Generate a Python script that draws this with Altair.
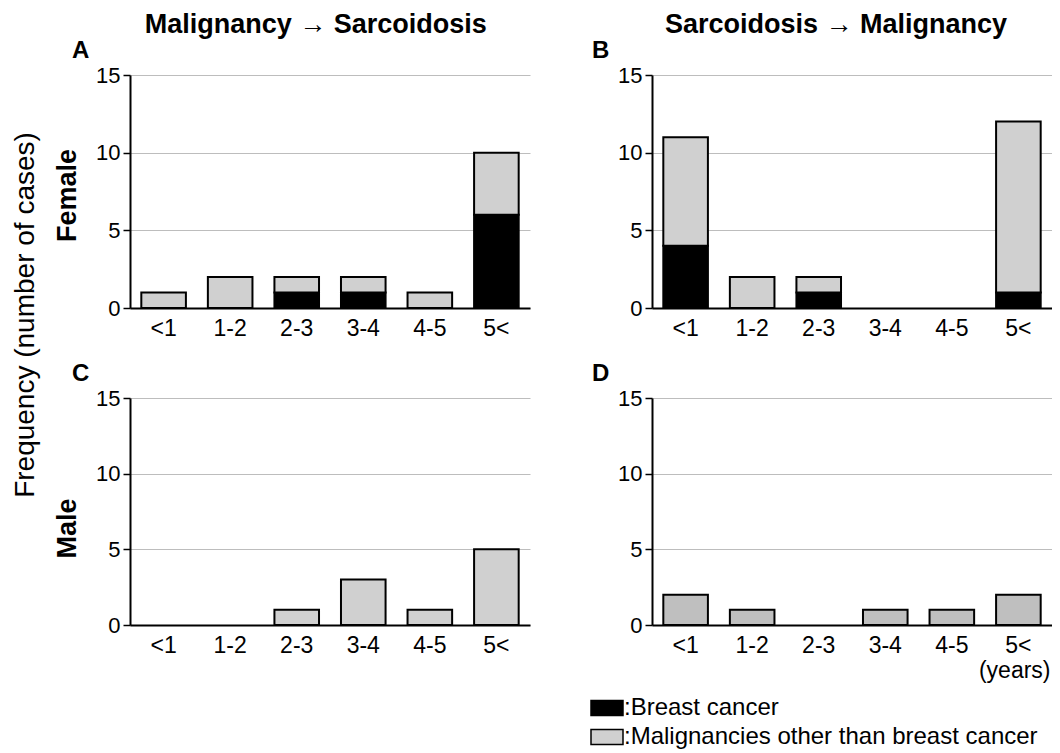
import altair as alt
import pandas as pd

categories = ["<1", "1-2", "2-3", "3-4", "4-5", "5<"]
types = ["Breast cancer", "Malignancies other than breast cancer"]

# Female, Malignancy -> Sarcoidosis (A)
a_breast = [0, 0, 1, 1, 0, 6]
a_other = [1, 2, 1, 1, 1, 4]
# Female, Sarcoidosis -> Malignancy (B)
b_breast = [4, 0, 1, 0, 0, 1]
b_other = [7, 2, 1, 0, 0, 11]
# Male, Malignancy -> Sarcoidosis (C)
c_breast = [0, 0, 0, 0, 0, 0]
c_other = [0, 0, 1, 3, 1, 5]
# Male, Sarcoidosis -> Malignancy (D)
d_breast = [0, 0, 0, 0, 0, 0]
d_other = [2, 1, 0, 1, 1, 2]

y_ticks = [0, 5, 10, 15]
col_titles = ["Malignancy \u2192 Sarcoidosis", "Sarcoidosis \u2192 Malignancy"]
row_titles = ["Female", "Male"]
letters = ["A", "B", "C", "D"]
y_title = "Frequency (number of cases)"
x_unit = "(years)"

FONT = "Liberation Sans"
W = 400


def frame(breast, other):
    rows = []
    for i, c in enumerate(categories):
        rows.append({"period": c, "type": types[0], "count": breast[i], "ord": 0})
        rows.append({"period": c, "type": types[1], "count": other[i], "ord": 1})
    df = pd.DataFrame(rows)
    return df[df["count"] > 0]


def panel(df, letter, ytitle, height, xtitle=None, fixed_gray=None, legend=None,
          ldx=-58, ty=None):
    x_axis = dict(labelAngle=0, ticks=False, domainColor="black", domainWidth=2,
                  labelFontSize=23, labelPadding=9, labelColor="black",
                  grid=False)
    if xtitle:
        x_axis.update(title=xtitle, titleAlign="right", titleX=W - 2, titleFontSize=23,
                      titleFontWeight="normal", titlePadding=2, titleColor="black")
    else:
        x_axis.update(title=None)
    y_axis = dict(values=y_ticks, grid=True, gridColor="#bdbdbd", gridWidth=1.2,
                  domainColor="black", domainWidth=2, tickColor="black",
                  tickWidth=1.5, tickSize=7, labelFontSize=22, labelPadding=3,
                  labelColor="black")
    if ytitle:
        y_axis.update(title=ytitle, titleFontSize=27, titleFontWeight="bold",
                      titleColor="black", titlePadding=14)
        if ty is not None:
            y_axis.update(titleY=ty)
    else:
        y_axis.update(title=None)
    enc = dict(
        x=alt.X("period:N", sort=categories,
                scale=alt.Scale(domain=categories, paddingInner=0.33, paddingOuter=0.17),
                axis=alt.Axis(**x_axis)),
        y=alt.Y("count:Q", stack="zero", scale=alt.Scale(domain=[0, 15], nice=False),
                axis=alt.Axis(**y_axis)),
        order=alt.Order("ord:Q"),
    )
    if fixed_gray:
        enc["color"] = alt.value(fixed_gray)
    else:
        enc["color"] = alt.Color("type:N",
                                 scale=alt.Scale(domain=types, range=["black", "#d0d0d0"]),
                                 legend=legend)
    return alt.Chart(df).mark_bar(stroke="black", strokeWidth=2).encode(**enc).properties(
        width=W, height=height,
        title=alt.TitleParams(letter, anchor="start", frame="group", dx=ldx,
                              fontSize=24, fontWeight="bold", color="black", offset=1),
    )


legend = alt.Legend(
    title=None, orient="none", legendX=465, legendY=621, direction="vertical",
    symbolType="M-1.6,-0.75H1.6V0.75H-1.6Z", symbolSize=400, symbolStrokeColor="black",
    symbolStrokeWidth=1.5, labelFontSize=24, labelColor="black", labelLimit=0,
    labelExpr="':' + datum.label", rowPadding=5, labelOffset=5, symbolOpacity=1,
)

A = panel(frame(a_breast, a_other), letters[0], row_titles[0], 233, legend=legend,
          ldx=-58, ty=120)
B = panel(frame(b_breast, b_other), letters[1], None, 233, ldx=-60)
C = panel(frame(c_breast, c_other), letters[2], row_titles[1], 227, ldx=-58, ty=130)
D = panel(frame(d_breast, d_other), letters[3], None, 227, xtitle=x_unit,
          fixed_gray="#bfbfbf", ldx=-60)

left = alt.vconcat(A, C, spacing=22).properties(
    title=alt.TitleParams(col_titles[0], fontSize=27, fontWeight="bold", anchor="middle",
                          color="black", offset=0, dx=24))
right = alt.vconcat(B, D, spacing=22).properties(
    title=alt.TitleParams(col_titles[1], fontSize=27, fontWeight="bold", anchor="middle",
                          color="black", offset=0, dx=14))

chart = alt.hconcat(left, right, spacing=62).properties(
    title=alt.TitleParams(y_title, orient="left", fontSize=28, fontWeight="normal",
                          anchor="middle", color="black", offset=14, dx=65),
    padding={"left": 3, "top": 3, "right": 0, "bottom": 0},
).configure(font=FONT).configure_view(stroke=None)

chart.save("out.html", embed_options={"renderer": "svg", "actions": False})
